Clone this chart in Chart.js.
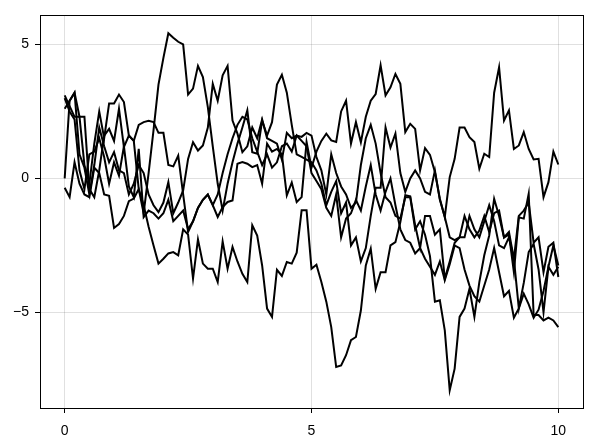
<!DOCTYPE html>
<html>
<head>
<meta charset="utf-8">
<script src="https://cdn.jsdelivr.net/npm/chart.js@4/dist/chart.umd.min.js"></script>
<style>
  html, body { margin: 0; padding: 0; background: #fff; }
  #wrap { width: 596px; height: 446px; }
</style>
</head>
<body>
<div id="wrap"><canvas id="chart" width="596" height="446"></canvas></div>
<script>
// ── Data ────────────────────────────────────────────
const xTicks = [0, 5, 10];
const yTicks = [-5, 0, 5];
const steps = Array.from({ length: 101 }, (_, i) => i / 10);

const walk1 = [
  3.1, 2.7, 2.3, 2.3, 0.5, -0.2, 1.3, 2.5, 1.5, 2.8, 2.8, 3.13, 2.85, 1.6, 1.4, -0.4, -1.3, 0.2, 1.8,
  3.5, 4.5, 5.42, 5.25, 5.1, 5.0, 3.13, 3.35, 4.2, 3.78, 2.66, 1.2, -0.2, -1.2, -0.2, 0.6, 1.3, 1.9,
  2.54, 0.98, 0.92, 2.16, 1.6, 2.1, 3.5, 3.87, 3.2, 2.0, 0.9, 0.8, 0.7, 0.6, 0.3, -0.2, -1.0,
  -0.5, -0.1, -1.3, -0.9, -2.5, -2.2, -3.1, -2.6, -1.4, -0.35, -0.35, 1.9, 1.15, 1.67, 0.2, -0.5, 0.0, 0.3, 0.0,
  -0.5, -0.6, 0.3, -0.8, -1.44, -2.2, -2.3, -2.2, -2.2, -1.4, -1.9, -2.2, -1.6, -1.0, -1.6,
  -2.5, -2.6, -2.2, -3.0, -1.4, -1.2, -0.9, -2.4, -2.2, -3.5, -2.55, -2.4, -3.68
];
const walk2 = [
  2.6, 2.9, 3.2, 2.3, 2.3, -0.4, -0.7, 0.3, 1.6, 1.85, 1.4, 2.6, 1.17, 1.6, 1.4, 2.0, 2.1, 2.15, 2.1,
  1.7, 1.7, 0.5, 0.45, 0.85, -0.6, -2.0, -1.6, -1.1, -0.8, -0.6, -1.0, -1.44, -1.07, -0.88, -0.82, 0.55, 0.61,
  0.55, 0.42, 0.5, -0.2, 1.3, 1.0, 1.1, 0.9, -0.63, -0.15, -0.88, -0.7, 1.36, 0.4, 1.0, 1.4,
  1.67, 1.42, 1.36, 2.5, 2.9, 1.3, 2.1, 1.35, 2.3, 2.9, 3.15, 4.22, 3.1, 3.4, 3.9, 3.53, 1.73, 2.04, 1.85,
  0.3, 1.13, 0.88, 0.24, -0.76, -1.44, 0.05, 0.73, 1.9, 1.9, 1.54, 1.36, 0.36, 0.92, 0.8, 3.2, 4.15, 2.16, 2.54,
  1.1, 1.23, 1.73, 1.1, 0.71, 0.73, -0.7, -0.14, 1.0, 0.52
];
const walk3 = [
  -0.35, -0.7, 0.6, -0.2, -0.6, -0.7, 0.4, 0.2, -0.6, -0.65, -1.85, -1.7, -1.4, -0.85, -0.75, -0.4, -1.0, -1.8, -2.5,
  -3.18, -3.0, -2.8, -2.75, -2.87, -1.9, -2.1, -3.74, -2.28, -3.18, -3.37, -3.37, -3.87, -2.35, -3.37, -2.56, -3.1,
  -3.56, -3.87, -1.75, -2.13, -3.25, -4.86, -5.17, -3.41, -3.64, -3.12, -3.18, -2.77, -1.19, -1.19, -3.37, -3.22, -3.87,
  -4.6, -5.55, -7.04, -6.98, -6.6, -6.04, -5.92, -4.93, -3.25, -2.62, -4.12, -3.5, -3.5, -2.5, -2.38, -1.63, -0.63, -0.67,
  -1.75, -2.6, -1.4, -1.4, -2.1, -1.9, -3.75, -3.1, -2.4, -2.2, -1.4, -1.9, -2.2, -1.95, -1.4, -2.0, -1.3,
  -1.2, -2.2, -2.1, -3.5, -1.45, -1.5, -0.57, -5.1, -5.1, -5.3, -5.2, -5.3, -5.55
];
const walk4 = [
  0.0, 2.9, 3.2, 0.9, 0.4, -0.6, 0.5, 1.9, 1.2, 0.6, 0.98, 0.3, 0.2, -0.6, -0.2, 0.5, 0.2, -0.6, -1.0,
  -1.26, -0.9, -0.14, -1.3, -0.9, -0.45, 0.73, 1.35, 1.04, 1.23, 1.9, 3.53, 2.9, 3.85, 4.2, 2.16, 1.67, 0.98,
  1.2, 1.9, 1.5, 2.2, 1.5, 1.4, 1.3, 0.7, 1.7, 1.5, 1.6, 1.55, 1.7, 1.6, 0.8, 0.3, -0.6,
  0.9, 0.2, -0.3, -0.6, -1.1, -0.9, 0.5, 1.5, 2.0, 1.3, 0.2, -0.7, -0.9, -1.4, -1.5, -0.7, -0.7, -1.9, -1.6,
  -2.1, -2.9, -4.6, -4.55, -5.67, -7.91, -7.1, -5.17, -4.86, -4.12, -5.17, -3.87, -2.87, -2.13, -0.76,
  -1.4, -2.2, -2.0, -3.0, -4.85, -3.9, -2.75, -2.45, -3.4, -5.0, -3.3, -3.6, -3.3
];
const walk5 = [
  3.0, 2.5, 2.2, 0.3, -0.4, 0.9, 1.0, 1.5, 0.8, -0.2, 0.6, 0.1, 1.2, -0.3, -0.7, 1.1, -1.44, -1.2, -1.3,
  -1.5, -1.3, -0.8, -1.6, -1.4, -1.2, -1.9, -1.6, -1.1, -0.8, -0.6, -1.0, -0.6, 0.2, 0.9, 1.5, 2.0, 2.3,
  2.2, 1.5, 1.0, 0.5, 0.9, 0.4, 0.6, 1.2, 1.3, 1.0, 1.6, 1.4, 1.2, 0.2, -0.1, -0.4, -1.1,
  -1.4, -0.6, -2.2, -1.5, -1.3, -0.8, -1.2, -0.3, 0.5, -0.6, -1.2, -0.5, 0.0, -1.0, -1.9, -2.3, -2.4, -2.8, -2.6,
  -3.0, -3.3, -3.6, -3.1, -3.8, -3.2, -2.5, -2.6, -3.4, -4.0, -4.4, -4.6, -4.0, -3.4, -2.6,
  -3.5, -4.4, -4.2, -5.2, -4.85, -4.3, -4.7, -5.2, -4.9, -4.2, -3.3, -2.5, -3.25
];
const walks = [walk1, walk2, walk3, walk4, walk5];

// ── Frame plugin (box round the plot area) ──────────
const frame = {
  id: 'frame',
  afterDraw(chart) {
    const { ctx, chartArea: a } = chart;
    ctx.save();
    ctx.strokeStyle = '#000';
    ctx.lineWidth = 1;
    ctx.strokeRect(Math.round(a.left) + 0.5, Math.round(a.top) + 0.5,
                   Math.round(a.right - a.left), Math.round(a.bottom - a.top));
    ctx.restore();
  }
};

const font = { family: 'Liberation Sans, Arial, sans-serif', size: 14 };
const fmt = v => (v < 0 ? '\u2212' + Math.abs(v) : String(v));

new Chart(document.getElementById('chart'), {
  type: 'line',
  data: {
    datasets: walks.map(w => ({
      data: w.map((y, i) => ({ x: steps[i], y })),
      borderColor: '#000',
      borderWidth: 2,
      pointRadius: 0,
      tension: 0,
      fill: false
    }))
  },
  options: {
    responsive: false,
    animation: false,
    layout: { padding: { top: 15, right: 13, left: 0, bottom: 0 } },
    plugins: { legend: { display: false }, tooltip: { enabled: false } },
    scales: {
      x: {
        type: 'linear',
        min: -0.5, max: 10.5,
        afterBuildTicks: s => { s.ticks = xTicks.map(v => ({ value: v })); },
        afterFit: s => { s.height = 38; },
        grid: { color: 'rgba(0,0,0,0.12)', tickColor: '#000', tickLength: 5 },
        border: { display: false },
        ticks: { color: '#000', font, padding: 10, maxRotation: 0, callback: fmt }
      },
      y: {
        type: 'linear',
        min: -8.57, max: 6.1,
        afterBuildTicks: s => { s.ticks = yTicks.map(v => ({ value: v })); },
        afterFit: s => { s.width = 40; },
        grid: { color: 'rgba(0,0,0,0.12)', tickColor: '#000', tickLength: 5 },
        border: { display: false },
        ticks: { color: '#000', font, padding: 6, callback: fmt }
      }
    }
  },
  plugins: [frame]
});
</script>
</body>
</html>
